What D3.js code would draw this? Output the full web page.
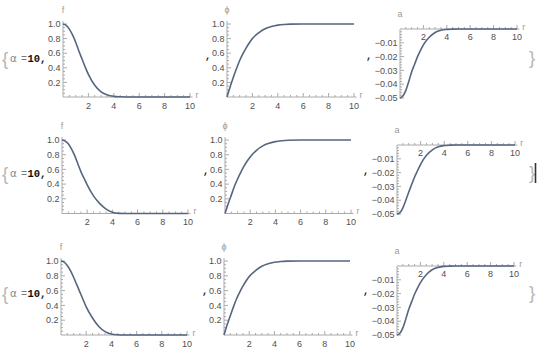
<!DOCTYPE html>
<html>
<head>
<meta charset="utf-8">
<script src="https://cdn.jsdelivr.net/npm/d3@7"></script>
<style>
  body { margin: 0; background: #fff; }
  svg { display: block; }
</style>
</head>
<body>
<script>
// 径向坐标采样点
const rVals = [0, 0.25, 0.5, 0.75, 1, 1.25, 1.5, 1.75, 2, 2.5, 3, 3.5, 4, 4.5, 5, 6, 7, 8, 9, 10]

// f(r)
const f1 = [1, 0.98, 0.93, 0.85, 0.75, 0.63, 0.52, 0.41, 0.31, 0.16, 0.07, 0.027, 0.009, 0.003, 0.001, 0, 0, 0, 0, 0]
const f2 = [1, 0.985, 0.95, 0.88, 0.79, 0.68, 0.57, 0.48, 0.39, 0.24, 0.135, 0.06, 0.018, 0.002, 0, 0, 0, 0, 0, 0]
const f3 = [1, 0.985, 0.94, 0.87, 0.78, 0.68, 0.58, 0.48, 0.38, 0.23, 0.115, 0.045, 0.013, 0.003, 0, 0, 0, 0, 0, 0]

// ϕ(r)
const phi1 = [0, 0.14, 0.27, 0.39, 0.5, 0.59, 0.67, 0.74, 0.8, 0.88, 0.935, 0.965, 0.985, 0.994, 0.998, 1, 1, 1, 1, 1]
const phi2 = [0, 0.13, 0.25, 0.37, 0.47, 0.56, 0.64, 0.71, 0.77, 0.86, 0.92, 0.955, 0.978, 0.99, 0.997, 1, 1, 1, 1, 1]
const phi3 = [0, 0.14, 0.26, 0.38, 0.49, 0.58, 0.66, 0.73, 0.79, 0.87, 0.93, 0.962, 0.982, 0.993, 0.998, 1, 1, 1, 1, 1]

// a(r)
const a1 = [-0.05, -0.0485, -0.0445, -0.038, -0.031, -0.0255, -0.02, -0.0155, -0.0115, -0.006, -0.0025, -0.0009, -0.0003, -0.0001, 0, 0, 0, 0, 0, 0]
const a2 = [-0.05, -0.049, -0.0455, -0.04, -0.034, -0.0285, -0.023, -0.0185, -0.014, -0.0075, -0.0035, -0.0013, -0.0004, -0.0001, 0, 0, 0, 0, 0, 0]
const a3 = [-0.05, -0.0487, -0.0448, -0.0385, -0.0315, -0.026, -0.0205, -0.016, -0.012, -0.0063, -0.0027, -0.001, -0.0003, -0.0001, 0, 0, 0, 0, 0, 0]

// 刻度
const xTicks = [2, 4, 6, 8, 10]
const unitTicks = [0.2, 0.4, 0.6, 0.8, 1.0]
const aTicks = [-0.01, -0.02, -0.03, -0.04, -0.05]
const alphaValue = '10'

const fSeries = [f1, f2, f3]
const phiSeries = [phi1, phi2, phi3]
const aSeries = [a1, a2, a3]

// 每行的像素位置
const rows = [
  { f: [63, 190, 97, 24], phi: [227, 354, 97, 24], a: [400, 517, 29, 98], mid: 58 },
  { f: [62, 188, 213.5, 140], phi: [225, 351, 213.5, 140], a: [397, 515, 145, 214], mid: 173 },
  { f: [61, 187, 335, 261], phi: [224, 350, 335, 261], a: [397, 514, 266, 335], mid: 293 },
]

const width = 540
const height = 350
const axisColor = '#aaaaaa'
const labelColor = '#505050'
const curveColor = '#55667f'
const sans = 'Liberation Sans, Arial, sans-serif'

const svg = d3.select('body').append('svg').attr('width', width).attr('height', height)

function panel(box, values, yDomain, yTicks, yMinorStep, yLabel, negative) {
  const [px0, px1, py0, py1] = box
  const x = d3.scaleLinear().domain([0, 10]).range([px0, px1])
  const y = d3.scaleLinear().domain(yDomain).range([py0, py1])
  const g = svg.append('g')
  const axisY = y(0)

  // x 轴
  g.append('line')
    .attr('x1', x(0)).attr('x2', x(10.2))
    .attr('y1', axisY).attr('y2', axisY)
    .attr('stroke', axisColor)
  const xMinor = d3.range(0.5, 10.01, 0.5)
  g.selectAll('.xt').data(xMinor).enter().append('line')
    .attr('x1', (d) => x(d)).attr('x2', (d) => x(d))
    .attr('y1', axisY)
    .attr('y2', (d) => axisY - (d % 2 === 0 ? 4 : 2))
    .attr('stroke', axisColor)
  g.selectAll('.xl').data(xTicks).enter().append('text')
    .attr('x', (d) => x(d)).attr('y', axisY + (negative ? 10.5 : 11.5))
    .attr('text-anchor', 'middle')
    .attr('font-family', sans)
    .attr('font-size', 9)
    .attr('fill', labelColor)
    .text((d) => d)
  g.append('text')
    .attr('x', x(10.2) + 3).attr('y', axisY)
    .attr('dy', '0.1em')
    .attr('font-family', sans)
    .attr('font-size', 8.5)
    .attr('fill', '#999')
    .text('r')

  // y 轴
  const yEnd = negative ? -0.0505 : 1.04
  g.append('line')
    .attr('x1', x(0)).attr('x2', x(0))
    .attr('y1', y(0)).attr('y2', y(yEnd))
    .attr('stroke', axisColor)
  const yMinor = negative
    ? d3.range(1, 26).map((i) => -i * yMinorStep)
    : d3.range(1, 21).map((i) => i * yMinorStep)
  g.selectAll('.yt').data(yMinor).enter().append('line')
    .attr('x1', x(0))
    .attr('x2', (d, i) => x(0) + ((i + 1) % (negative ? 5 : 4) === 0 ? 4 : 2))
    .attr('y1', (d) => y(d)).attr('y2', (d) => y(d))
    .attr('stroke', axisColor)
  g.selectAll('.yl').data(yTicks).enter().append('text')
    .attr('x', x(0) - 2.5).attr('y', (d) => y(d))
    .attr('dy', '0.35em')
    .attr('text-anchor', 'end')
    .attr('font-family', sans)
    .attr('font-size', 9)
    .attr('fill', labelColor)
    .text((d) => (negative ? '\u2212' + Math.abs(d).toFixed(2) : d.toFixed(1)))
  g.append('text')
    .attr('x', x(0)).attr('y', negative ? y(0) - 12 : y(1) - 11)
    .attr('text-anchor', 'middle')
    .attr('font-family', sans)
    .attr('font-size', 9)
    .attr('fill', '#999')
    .text(yLabel)

  // 曲线
  const line = d3.line()
    .x((d, i) => x(rVals[i]))
    .y((d) => y(d))
    .curve(d3.curveMonotoneX)
  g.append('path')
    .attr('d', line(values))
    .attr('fill', 'none')
    .attr('stroke', curveColor)
    .attr('stroke-width', 1.6)
}

rows.forEach((row, k) => {
  panel(row.f, fSeries[k], [0, 1], unitTicks, 0.05, 'f', false)
  panel(row.phi, phiSeries[k], [0, 1], unitTicks, 0.05, '\u03d5', false)
  panel(row.a, aSeries[k], [0, -0.05], aTicks, 0.002, 'a', true)

  // 左侧 {α =10,
  svg.append('text')
    .attr('x', 2).attr('y', row.mid).attr('dy', '0.35em')
    .attr('font-family', sans).attr('font-size', 19)
    .attr('fill', '#b8b8b8')
    .text('{')
  svg.append('text')
    .attr('x', 10).attr('y', row.mid).attr('dy', '0.35em')
    .attr('font-family', 'DejaVu Sans, sans-serif').attr('font-size', 10.5)
    .attr('fill', '#8a8a8a')
    .text('\u03b1')
  svg.append('text')
    .attr('x', 21).attr('y', row.mid).attr('dy', '0.35em')
    .attr('font-family', 'Liberation Mono, monospace').attr('font-size', 10)
    .attr('fill', '#777')
    .text('=')
  svg.append('text')
    .attr('x', 27.5).attr('y', row.mid).attr('dy', '0.35em')
    .attr('font-family', 'Liberation Mono, monospace').attr('font-size', 10.5)
    .attr('font-weight', 'bold').attr('fill', '#111')
    .text(alphaValue + ',')

  // 分隔逗号
  ;[row.phi[0] - 22, row.a[0] - 34].forEach((cx) => {
    svg.append('text')
      .attr('x', cx).attr('y', row.mid + 1)
      .attr('font-family', 'Liberation Mono, monospace')
      .attr('font-size', 10).attr('font-weight', 'bold')
      .attr('fill', '#222')
      .text(',')
  })

  // 右侧 }
  svg.append('text')
    .attr('x', 529).attr('y', row.mid - 1).attr('dy', '0.35em')
    .attr('font-family', sans).attr('font-size', 19)
    .attr('fill', '#b8b8b8')
    .text('}')
})

// 第二行右侧的单元格标记
svg.append('line')
  .attr('x1', 535.5).attr('x2', 535.5)
  .attr('y1', 163).attr('y2', 183)
  .attr('stroke', '#333').attr('stroke-width', 1.6)
</script>
</body>
</html>
